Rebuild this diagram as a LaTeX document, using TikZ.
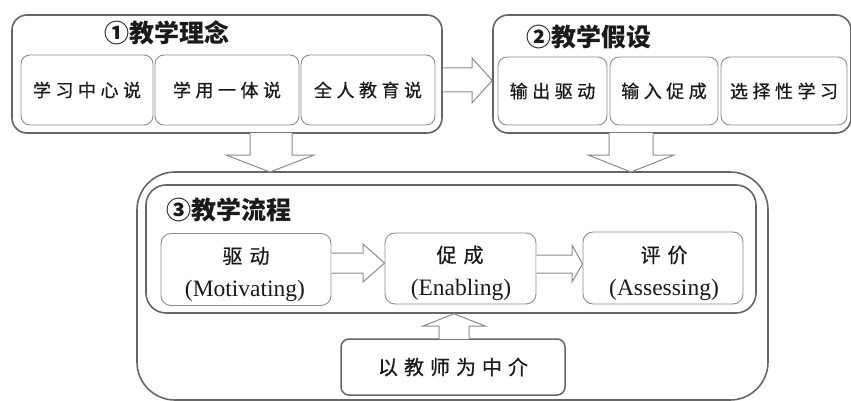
\documentclass[tikz,border=0pt]{standalone}
\usepackage{fontspec}
\setmainfont{Liberation Serif}
\newfontfamily\cjk{Noto Sans CJK SC}
\newfontfamily\cjkm[FakeBold=0.6]{Noto Sans CJK SC}
\usetikzlibrary{calc}
\definecolor{lineA}{HTML}{666666}
\definecolor{lineB}{HTML}{8C8C8C}
\definecolor{txt}{HTML}{1A1A1A}
\newcommand\gpA{\hspace{4.5pt}}
\newcommand\gpB{\hspace{7pt}}
\newcommand\gpC{\hspace{6pt}}
\begin{document}
\begin{tikzpicture}[x=1pt,y=-1pt,
  bigbox/.style={draw=lineA,line width=1.6pt,rounded corners=#1,inner sep=0pt},
  bigbox/.default=15pt,
  smallbox/.style={draw=lineB,line width=0.9pt,rounded corners=9pt,inner sep=0pt,
     font=\cjkm\fontsize{18}{20}\selectfont,text=txt},
  stagebox/.style={draw=lineB,line width=0.9pt,rounded corners=10pt,inner sep=0pt},
  title/.style={font=\cjk\bfseries\fontsize{25}{28}\selectfont,text=txt,inner sep=0pt},
  cjkstage/.style={font=\cjkm\fontsize{20}{22}\selectfont,text=txt,inner sep=0pt},
  latstage/.style={font=\fontsize{23.5}{26}\selectfont,text=txt,inner sep=0pt},
  blockarrow/.style={draw=lineB,line width=1pt,fill=white,line join=miter}
]
\useasboundingbox (0,0) rectangle (851,401);
\begin{scope}
\clip (0,0) rectangle (851,401);
% ---- box 1
\node[bigbox,minimum width=430pt,minimum height=118pt] (box1) at (227,74) {};
\node[title] (t1) at (166.5,33) {①教学理念};
\node[smallbox,minimum width=132pt,minimum height=70pt] (a) at (87,90) {学\gpA 习\gpA 中\gpA 心\gpA 说};
\node[smallbox,minimum width=144pt,minimum height=70pt] (b) at (227,90) {学\gpA 用\gpA 一\gpA 体\gpA 说};
\node[smallbox,minimum width=134pt,minimum height=70pt] (c) at (368,90) {全\gpA 人\gpA 教\gpA 育\gpA 说};
% ---- box 2
\node[bigbox,minimum width=358pt,minimum height=118pt] (box2) at (672,74) {};
\node[title] (t2) at (588.5,37) {②教学假设};
\node[smallbox,minimum width=109pt,minimum height=68pt] (d) at (552.5,91) {输\gpA 出\gpA 驱\gpA 动};
\node[smallbox,minimum width=108pt,minimum height=68pt] (e) at (664,91) {输\gpA 入\gpA 促\gpA 成};
\node[smallbox,minimum width=126pt,minimum height=68pt] (f) at (784,91) {选\gpA 择\gpA 性\gpA 学\gpA 习};
% ---- box 3
\node[bigbox=38pt,minimum width=631pt,minimum height=228pt] (box3) at (452.5,286) {};
\node[bigbox=20pt,minimum width=610pt,minimum height=128pt] (frame) at (451,249) {};
\node[title] (t3) at (229,210) {③教学流程};
\node[stagebox,minimum width=170pt,minimum height=72pt] (g) at (246,269.5) {};
\node[stagebox,minimum width=151pt,minimum height=71pt] (h) at (460.5,268.5) {};
\node[stagebox,minimum width=160pt,minimum height=72pt] (i) at (663,268) {};
\node[cjkstage] (g1) at (246,256) {驱\gpB 动};
\node[latstage] (g2) at (245,291) {(Motivating)};
\node[cjkstage] (h1) at (460,255) {促\gpB 成};
\node[latstage] (h2) at (461,290) {(Enabling)};
\node[cjkstage] (i1) at (664,255) {评\gpB 价};
\node[latstage] (i2) at (664,290) {(Assessing)};
\node[draw=lineA,line width=1.5pt,rounded corners=8pt,minimum width=224pt,minimum height=56pt,
      font=\cjkm\fontsize{20}{22}\selectfont,text=txt,inner sep=0pt] (teach) at (453,367)
      {以\gpC 教\gpC 师\gpC 为\gpC 中\gpC 介};
% ---- block arrows
\draw[blockarrow] (box1.east |- 0,68) -- (472,68) -- (472,58) -- (box2.west |- 0,80.5)
   -- (472,103) -- (472,92) -- (box1.east |- 0,92);
\draw[blockarrow] (250,133) -- (250,155) -- (226,155) -- (270,172) -- (314,155) -- (292,155) -- (292,133);
\draw[blockarrow] (609,133) -- (609,155) -- (588,155) -- (631,172) -- (674,155) -- (653,155) -- (653,133);
\draw[blockarrow] (g.east |- 0,253) -- (363,253) -- (363,244) -- (h.west |- 0,263)
   -- (363,282) -- (363,273) -- (g.east |- 0,273);
\draw[blockarrow] (h.east |- 0,255) -- (572,255) -- (572,245) -- (i.west |- 0,264)
   -- (572,282) -- (572,273) -- (h.east |- 0,273);
\draw[blockarrow] (439,339) -- (439,326) -- (423,326) -- (frame.south -| 454,0)
   -- (485,326) -- (469,326) -- (469,339);
\end{scope}
\end{tikzpicture}
\end{document}
